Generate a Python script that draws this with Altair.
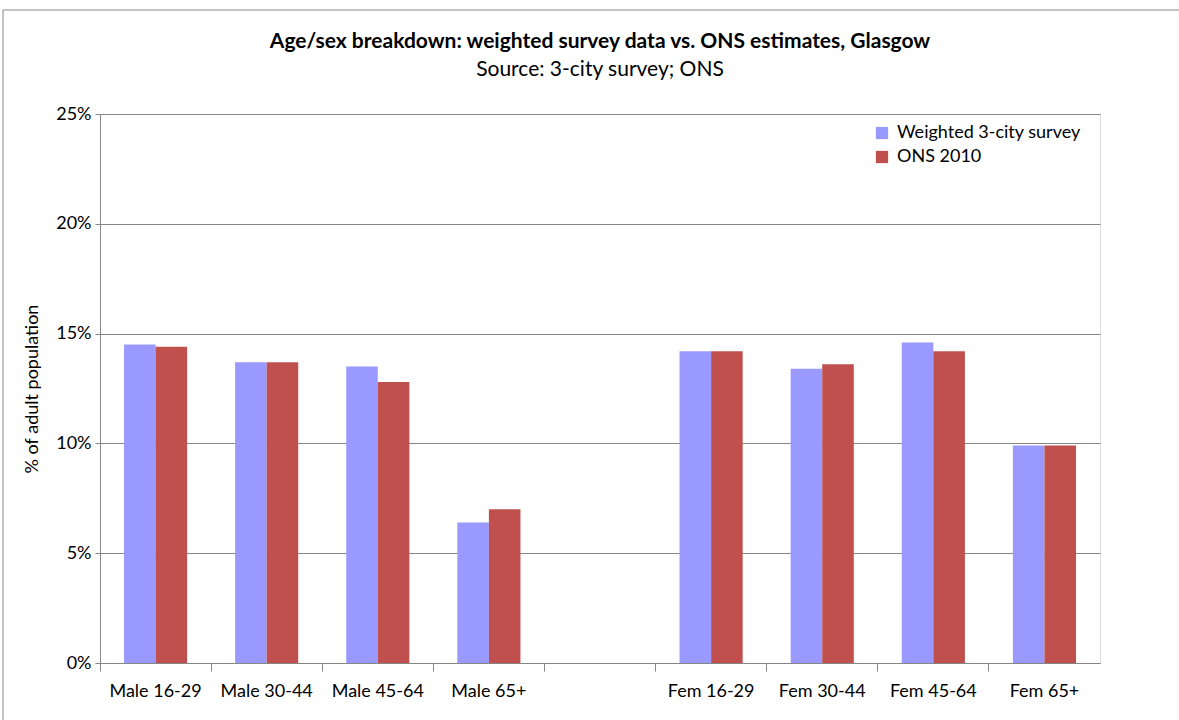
import altair as alt
import pandas as pd

categories = ["Male 16-29", "Male 30-44", "Male 45-64", "Male 65+", " ",
              "Fem 16-29", "Fem 30-44", "Fem 45-64", "Fem 65+"]
data_categories = ["Male 16-29", "Male 30-44", "Male 45-64", "Male 65+",
                   "Fem 16-29", "Fem 30-44", "Fem 45-64", "Fem 65+"]
survey = [14.5, 13.7, 13.5, 6.4, 14.2, 13.4, 14.6, 9.9]
ons = [14.4, 13.7, 12.8, 7.0, 14.2, 13.6, 14.2, 9.9]
series = ["Weighted 3-city survey", "ONS 2010"]
colors = ["#9999FF", "#C0504D"]
y_ticks = [0, 5, 10, 15, 20, 25]
title_text = "Age/sex breakdown: weighted survey data vs. ONS estimates, Glasgow"
subtitle_text = "Source: 3-city survey; ONS"

rows = []
for c, s, o in zip(data_categories, survey, ons):
    rows.append({"cat": c, "series": series[0], "value": s})
    rows.append({"cat": c, "series": series[1], "value": o})
df = pd.DataFrame(rows)

FONT = "Lato"
GRID = "#868686"

bars = alt.Chart(df).mark_bar().encode(
    x=alt.X("cat:N", sort=categories,
            scale=alt.Scale(domain=categories, paddingInner=0, paddingOuter=0),
            axis=alt.Axis(title=None, bandPosition=0,
                          labelAngle=0, labelFontSize=18, labelFont=FONT,
                          labelColor="#000000", labelPadding=11,
                          tickSize=8, tickColor=GRID, domainColor=GRID,
                          grid=False)),
    xOffset=alt.XOffset("series:N", sort=series,
                        scale=alt.Scale(paddingOuter=0.76, paddingInner=0)),
    y=alt.Y("value:Q",
            scale=alt.Scale(domain=[0, 25], nice=False),
            axis=alt.Axis(title="% of adult population", values=y_ticks,
                          labelExpr="datum.value + '%'",
                          labelFontSize=18, labelFont=FONT, labelColor="#000000",
                          titleFontSize=18, titleFont=FONT, titleFontWeight="normal",
                          titleColor="#000000", titlePadding=14,
                          tickSize=5, tickColor=GRID, domainColor=GRID,
                          gridColor=GRID, gridWidth=1, labelPadding=4)),
    color=alt.Color("series:N", sort=series,
                    scale=alt.Scale(domain=series, range=colors),
                    legend=alt.Legend(title=None, orient="none", legendX=773,
                                      legendY=10, symbolType="square",
                                      symbolSize=150, symbolStrokeWidth=0,
                                      labelFontSize=18, labelFont=FONT,
                                      labelColor="#000000", rowPadding=6,
                                      labelLimit=400, labelOffset=6,
                                      symbolOpacity=1)),
)

one = pd.DataFrame({"k": [0]})
border = alt.Chart(one).mark_rule(color=GRID, strokeWidth=1).encode(
    x=alt.value(-97), x2=alt.value(1079), y=alt.value(-104)
)
border_left = alt.Chart(one).mark_rule(color=GRID, strokeWidth=1).encode(
    x=alt.value(-97), y=alt.value(-104), y2=alt.value(606)
)
title = alt.Chart(one).mark_text(
    text=title_text, font=FONT, fontSize=21, fontWeight="bold", color="#000000",
    align="center", baseline="middle"
).encode(x=alt.value(500), y=alt.value(-72))
subtitle = alt.Chart(one).mark_text(
    text=subtitle_text, font=FONT, fontSize=21, color="#000000",
    align="center", baseline="middle"
).encode(x=alt.value(500), y=alt.value(-44))

chart = alt.layer(bars, border, border_left, title, subtitle).properties(
    width=1000, height=549,
    autosize=alt.AutoSizeParams(type="none"),
    padding={"left": 100, "top": 114, "right": 79, "bottom": 57},
).configure_view(stroke=GRID, strokeWidth=1).configure(background="#ffffff")

chart.save("out.html", embed_options={"renderer": "svg", "actions": False})
